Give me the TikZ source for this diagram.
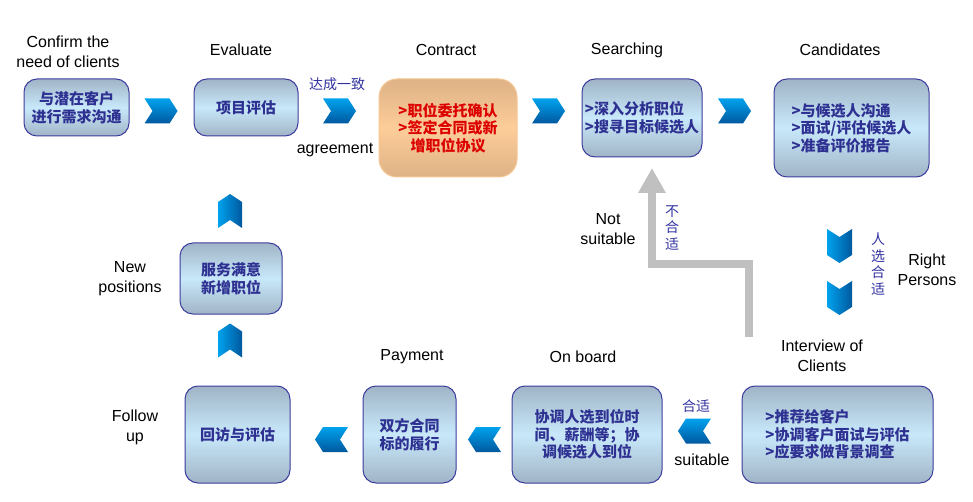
\documentclass[tikz,border=0pt]{standalone}
\usepackage{fontspec}
\setmainfont{Liberation Sans}
\newfontfamily\cjk{Noto Sans CJK SC}
\usetikzlibrary{arrows.meta}
\definecolor{boxline}{RGB}{60,60,156}
\definecolor{boxtext}{RGB}{46,49,146}
\definecolor{boxedge}{RGB}{160,180,198}
\definecolor{boxmid}{RGB}{200,233,251}
\definecolor{dealedge}{RGB}{222,178,134}
\definecolor{dealmid}{RGB}{253,205,153}
\definecolor{dealline}{RGB}{246,198,148}
\definecolor{dealtext}{RGB}{220,0,0}
\definecolor{chevlight}{RGB}{0,162,238}
\definecolor{chevdark}{RGB}{0,88,158}
\definecolor{tagblue}{RGB}{50,50,160}
\definecolor{backline}{RGB}{192,192,192}
\tikzset{
  stage/.style={draw=boxline,line width=1pt,rounded corners=13pt,
    top color=boxedge,bottom color=boxedge,middle color=boxmid,
    text=boxtext,font=\cjk\bfseries\fontsize{15}{17.5}\selectfont,
    align=center,inner sep=0pt},
  deal/.style={stage,draw=dealline,rounded corners=18pt,
    top color=dealedge,bottom color=dealedge,middle color=dealmid,text=dealtext},
  note/.style={font=\fontsize{16}{20}\selectfont,align=center},
  tag/.style={text=tagblue,font=\cjk\fontsize{14}{16.5}\selectfont,align=center},
  chevright/.pic={\shade[top color=chevlight,bottom color=chevdark]
    (-16.5,-12.5)--(8.5,-12.5)--(16.5,0)--(8.5,12.5)--(-16.5,12.5)--(-8.5,0)--cycle;},
  chevleft/.pic={\shade[top color=chevlight,bottom color=chevdark]
    (16.5,-12.5)--(-8.5,-12.5)--(-16.5,0)--(-8.5,12.5)--(16.5,12.5)--(8.5,0)--cycle;},
  chevdown/.pic={\shade[left color=chevlight,right color=chevdark]
    (-12.5,-17)--(0,-9)--(12.5,-17)--(12.5,9)--(0,17)--(-12.5,9)--cycle;},
  chevup/.pic={\shade[left color=chevlight,right color=chevdark]
    (-12,17)--(0,9)--(12,17)--(12,-9)--(0,-17)--(-12,-9)--cycle;}
}
\begin{document}
\begin{tikzpicture}[x=1pt,y=-1pt]
  \useasboundingbox (0,0) rectangle (973,502);
  % top row
  \node[stage,minimum width=105pt,minimum height=57pt] (need) at (76.5,107.5) {与潜在客户\\进行需求沟通};
  \node[stage,minimum width=104pt,minimum height=57pt] (evaluate) at (246,107.5) {项目评估};
  \node[deal,minimum width=138pt,minimum height=98pt] (contract) at (448,128) {>职位委托确认\\>签定合同或新\\增职位协议};
  \node[stage,align=left,minimum width=120pt,minimum height=78pt] (searching) at (642,118) {>深入分析职位\\>搜寻目标候选人};
  \node[stage,align=left,minimum width=155pt,minimum height=98pt] (candidates) at (851.5,128) {>与候选人沟通\\>面试/评估候选人\\>准备评价报告};
  % bottom row
  \node[stage,align=left,minimum width=191pt,minimum height=97pt] (interview) at (837.5,434.5) {>推荐给客户\\>协调客户面试与评估\\>应要求做背景调查};
  \node[stage,minimum width=150pt,minimum height=97pt] (onboard) at (587,434.5) {协调人选到位时\\间、薪酬等；协\\调候选人到位};
  \node[stage,minimum width=93pt,minimum height=97pt] (payment) at (409.5,434.5) {双方合同\\标的履行};
  \node[stage,minimum width=105pt,minimum height=97pt] (followup) at (237.5,434.5) {回访与评估};
  \node[stage,minimum width=102pt,minimum height=71pt] (newpos) at (231,278.5) {服务满意\\新增职位};
  % chevrons
  \pic at (161,111) {chevright};
  \pic at (339.5,111) {chevright};
  \pic at (548.5,111) {chevright};
  \pic at (734.5,111) {chevright};
  \pic at (839.5,246) {chevdown};
  \pic at (839.5,298) {chevdown};
  \pic at (694.5,431) {chevleft};
  \pic at (484.5,439.5) {chevleft};
  \pic at (331.5,439.5) {chevleft};
  \pic at (230,340.5) {chevup};
  \pic at (230,211) {chevup};
  % way back when not suitable
  \coordinate (fail) at (749,337);
  \coordinate (bend) at (652,264);
  \coordinate (back) at (652,168);
  \draw[backline,line width=8pt,line join=miter,-{Triangle[width=26pt,length=25pt]}] (fail) |- (bend) -- (back);
  % labels
  \node[note] (needlbl) at (68,52) {Confirm the\\need of clients};
  \node[note] (evallbl) at (241,50) {Evaluate};
  \node[note] (contlbl) at (446,50) {Contract};
  \node[note] (searlbl) at (627,50) {Searching};
  \node[note] (candlbl) at (840,50) {Candidates};
  \node[tag] (agreetag) at (337,84) {达成一致};
  \node[note] (agreelbl) at (335,150) {agreement};
  \node[note] (notlbl) at (608,229) {Not\\suitable};
  \node[tag] (nottag) at (672,228) {不\\合\\适};
  \node[tag] (righttag) at (878,264) {人\\选\\合\\适};
  \node[note] (rightlbl) at (927,270) {Right\\Persons};
  \node[note] (interlbl) at (822,356) {Interview of\\Clients};
  \node[note] (onlbl) at (583,357) {On board};
  \node[note] (paylbl) at (412,357) {Payment};
  \node[note] (followlbl) at (135,427) {Follow\\up};
  \node[note] (newlbl) at (130,279) {New\\positions};
  \node[tag] (suittag) at (696,406) {合适};
  \node[note] (suitlbl) at (702,460) {suitable};
\end{tikzpicture}
\end{document}
